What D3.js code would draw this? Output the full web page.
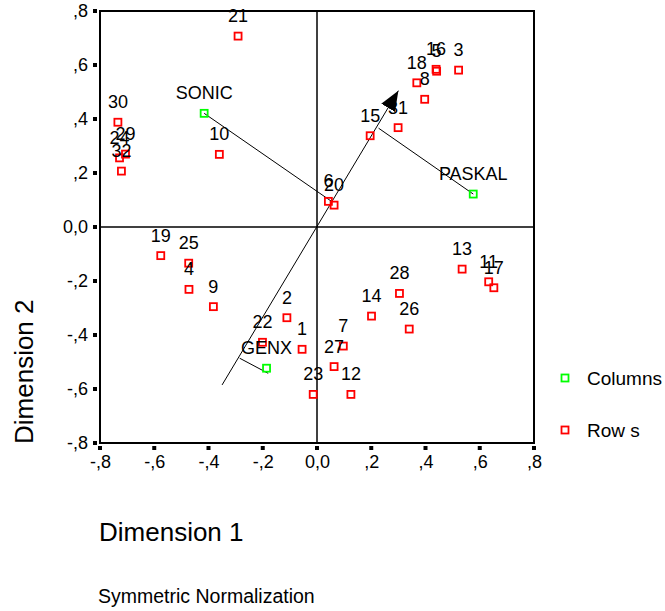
<!DOCTYPE html>
<html>
<head>
<meta charset="utf-8">
<script src="https://cdn.jsdelivr.net/npm/d3@7"></script>
<style>
body { margin: 0; background: #fff; }
text { font-family: Arial, "Liberation Sans", sans-serif; fill: #000; }
</style>
</head>
<body>
<div id="chart"></div>
<script>
// row points (cases 1..32)
const rowLabels = ["1","2","3","4","5","6","7","8","9","10","11","12","13","14","15","16",
    "17","18","19","20","21","22","23","24","25","26","27","28","29","30","31","32"];
const rowDim1 = [-0.055,-0.111,0.522,-0.472,0.441,0.042,0.097,0.397,-0.382,-0.360,0.633,0.125,0.535,0.201,0.196,0.439,
    0.652,0.368,-0.576,0.063,-0.291,-0.201,-0.014,-0.728,-0.473,0.340,0.063,0.304,-0.706,-0.734,0.299,-0.721];
const rowDim2 = [-0.453,-0.336,0.581,-0.231,0.577,0.095,-0.441,0.473,-0.295,0.269,-0.203,-0.620,-0.156,-0.330,0.338,0.584,
    -0.225,0.534,-0.106,0.081,0.707,-0.427,-0.620,0.256,-0.134,-0.378,-0.517,-0.246,0.270,0.388,0.368,0.207];

// column points
const colLabels = ["SONIC","PASKAL","GENX"];
const colDim1 = [-0.416, 0.576, -0.186];
const colDim2 = [0.421, 0.122, -0.523];

// hand drawn arrow and projection lines: [x1, y1, x2, y2]
const arrowLine = [-0.350, -0.585, 0.300, 0.505];
const projLines = [
    [-0.416, 0.421, 0.052, 0.096],
    [0.576, 0.122, 0.227, 0.366],
    [-0.285, -0.486, -0.180, -0.542]
];

// ticks
const tickValues = [-0.8,-0.6,-0.4,-0.2,0,0.2,0.4,0.6,0.8];
const tickLabels = ["-,8","-,6","-,4","-,2","0,0",",2",",4",",6",",8"];

const legendLabels = ["Columns","Row s"];

const width = 665, height = 611;

const svg = d3.select("#chart")
    .append("svg")
    .attr("width", width)
    .attr("height", height);

const x = d3.scaleLinear().domain([-0.8, 0.8]).range([100, 534]);
const y = d3.scaleLinear().domain([-0.8, 0.8]).range([443, 11]);

// frame
svg.append("rect")
    .attr("x", x(-0.8))
    .attr("y", y(0.8))
    .attr("width", x(0.8) - x(-0.8))
    .attr("height", y(-0.8) - y(0.8))
    .attr("fill", "none")
    .attr("stroke", "#000")
    .attr("stroke-width", 2);

// zero lines
svg.append("line")
    .attr("x1", x(0)).attr("x2", x(0))
    .attr("y1", y(0.8)).attr("y2", y(-0.8))
    .attr("stroke", "#000").attr("stroke-width", 1.5);
svg.append("line")
    .attr("x1", x(-0.8)).attr("x2", x(0.8))
    .attr("y1", y(0)).attr("y2", y(0))
    .attr("stroke", "#000").attr("stroke-width", 1.5);

// Y axis
const yAxis = svg.append("g")
    .attr("transform", `translate(${x(-0.8) - 12}, 0)`)
    .call(d3.axisLeft(y).tickValues(tickValues).tickSize(0).tickPadding(0)
        .tickFormat((d, i) => tickLabels[i]));
yAxis.select(".domain").remove();
yAxis.selectAll("text")
    .style("font-size", "18px")
    .style("font-family", "Arial, 'Liberation Sans', sans-serif");

// X axis
const xAxis = svg.append("g")
    .attr("transform", `translate(0, ${y(-0.8) + 12})`)
    .call(d3.axisBottom(x).tickValues(tickValues).tickSize(0).tickPadding(0)
        .tickFormat((d, i) => tickLabels[i]));
xAxis.select(".domain").remove();
xAxis.selectAll("text")
    .style("font-size", "18px")
    .style("font-family", "Arial, 'Liberation Sans', sans-serif");

// square tick marks
svg.selectAll(".ytick")
    .data(tickValues)
    .join("rect")
    .attr("class", "ytick")
    .attr("x", x(-0.8) - 7)
    .attr("y", d => y(d) - 2)
    .attr("width", 4).attr("height", 4)
    .attr("fill", "#000");
svg.selectAll(".xtick")
    .data(tickValues)
    .join("rect")
    .attr("class", "xtick")
    .attr("x", d => x(d) - 2)
    .attr("y", y(-0.8) + 3)
    .attr("width", 4).attr("height", 4)
    .attr("fill", "#000");

// arrow head
svg.append("defs").append("marker")
    .attr("id", "arrow")
    .attr("viewBox", "0 0 20 16")
    .attr("refX", 20).attr("refY", 8)
    .attr("markerWidth", 20).attr("markerHeight", 16)
    .attr("markerUnits", "userSpaceOnUse")
    .attr("orient", "auto")
    .append("path")
    .attr("d", "M0,0 L20,8 L0,16 Z")
    .attr("fill", "#000");

svg.append("line")
    .attr("x1", x(arrowLine[0])).attr("y1", y(arrowLine[1]))
    .attr("x2", x(arrowLine[2])).attr("y2", y(arrowLine[3]))
    .attr("stroke", "#000").attr("stroke-width", 1)
    .attr("marker-end", "url(#arrow)");

svg.selectAll(".proj")
    .data(projLines)
    .join("line")
    .attr("class", "proj")
    .attr("x1", d => x(d[0])).attr("y1", d => y(d[1]))
    .attr("x2", d => x(d[2])).attr("y2", d => y(d[3]))
    .attr("stroke", "#000").attr("stroke-width", 1);

// points
const rows = rowLabels.map((l, i) => ({label: l, d1: rowDim1[i], d2: rowDim2[i]}));
const cols = colLabels.map((l, i) => ({label: l, d1: colDim1[i], d2: colDim2[i]}));

function drawPoints(data, color, cls) {
    svg.selectAll(".pt-" + cls)
        .data(data)
        .join("rect")
        .attr("class", "pt-" + cls)
        .attr("x", d => x(d.d1) - 3.5)
        .attr("y", d => y(d.d2) - 3.5)
        .attr("width", 7).attr("height", 7)
        .attr("fill", "none")
        .attr("stroke", color)
        .attr("stroke-width", 1.8);
    svg.selectAll(".lb-" + cls)
        .data(data)
        .join("text")
        .attr("class", "lb-" + cls)
        .attr("x", d => x(d.d1))
        .attr("y", d => y(d.d2) - 14)
        .attr("text-anchor", "middle")
        .style("font-size", "18px")
        .text(d => d.label);
}
drawPoints(rows, "#ff0000", "row");
drawPoints(cols, "#00ff00", "col");

// axis titles
svg.append("text")
    .attr("x", 99).attr("y", 541)
    .style("font-size", "26px")
    .text("Dimension 1");
svg.append("text")
    .attr("transform", "translate(33, 444) rotate(-90)")
    .style("font-size", "26px")
    .text("Dimension 2");

// legend
const legendColors = ["#00ff00", "#ff0000"];
const legend = svg.selectAll(".legend")
    .data(legendLabels)
    .join("g")
    .attr("class", "legend")
    .attr("transform", (d, i) => `translate(565, ${378 + i * 52})`);
legend.append("rect")
    .attr("x", -3.5).attr("y", -3.5)
    .attr("width", 7).attr("height", 7)
    .attr("fill", "none")
    .attr("stroke", (d, i) => legendColors[i])
    .attr("stroke-width", 1.8);
legend.append("text")
    .attr("x", 22).attr("y", 7)
    .style("font-size", "19px")
    .text(d => d);

// footnote
svg.append("text")
    .attr("x", 98).attr("y", 603)
    .style("font-size", "19.5px")
    .text("Symmetric Normalization");
</script>
</body>
</html>
